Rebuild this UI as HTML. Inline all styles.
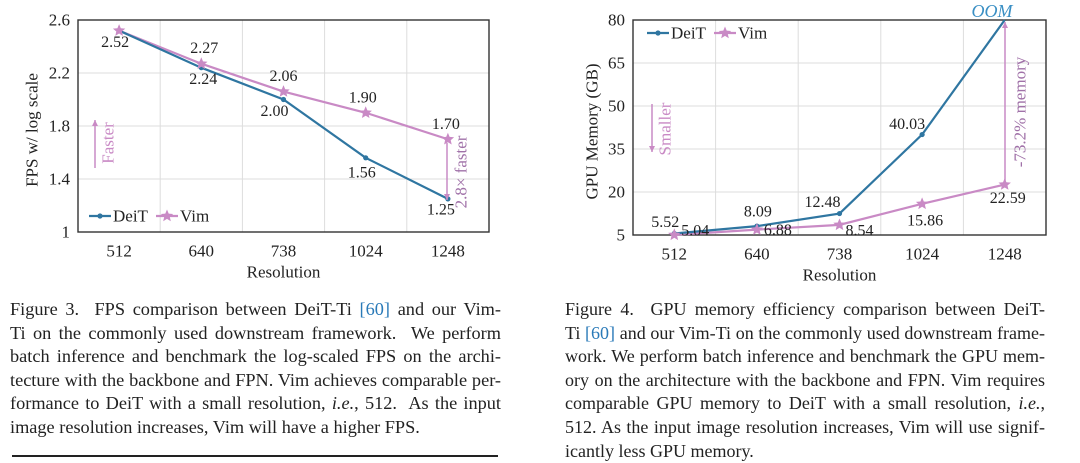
<!DOCTYPE html>
<html><head><meta charset="utf-8"><style>
body{margin:0;width:1080px;height:460px;background:#fff;overflow:hidden;font-family:"Liberation Serif",serif;}
svg{position:absolute;left:0;top:0}
.cap{position:absolute;font-size:18.3px;color:#222;line-height:23.6px;}
.cap div{text-align:justify;text-align-last:justify;white-space:nowrap;height:23.6px}
.cap div.last{text-align-last:left}
.ref{color:#2a7ab8}
</style></head><body>
<svg id="chart" width="1080" height="300" font-family="Liberation Serif, serif"></svg>
<div class="cap" style="left:10px;top:298px;width:491px">
<div>Figure 3.&nbsp; FPS comparison between DeiT-Ti <span class="ref">[60]</span> and our Vim-</div>
<div>Ti on the commonly used downstream framework.&nbsp; We perform</div>
<div>batch inference and benchmark the log-scaled FPS on the archi-</div>
<div>tecture with the backbone and FPN. Vim achieves comparable per-</div>
<div>formance to DeiT with a small resolution, <i>i.e.</i>, 512.&nbsp; As the input</div>
<div class="last">image resolution increases, Vim will have a higher FPS.</div>
</div>
<div style="position:absolute;left:12px;top:455px;width:486px;height:1.5px;background:#222"></div>
<div class="cap" style="left:565px;top:298px;width:480px;font-size:18px">
<div>Figure 4.&nbsp; GPU memory efficiency comparison between DeiT-</div>
<div>Ti <span class="ref">[60]</span> and our Vim-Ti on the commonly used downstream frame-</div>
<div>work. We perform batch inference and benchmark the GPU mem-</div>
<div>ory on the architecture with the backbone and FPN. Vim requires</div>
<div>comparable GPU memory to DeiT with a small resolution, <i>i.e.</i>,</div>
<div>512. As the input image resolution increases, Vim will use signif-</div>
<div class="last">icantly less GPU memory.</div>
</div>
<script>
const categories=["512","640","738","1024","1248"];
const fpsDeiT=[2.52,2.24,2.00,1.56,1.25];
const fpsVim=[2.52,2.27,2.06,1.90,1.70];
const fpsTicks=[1,1.4,1.8,2.2,2.6];
const fpsTickLabels=["1","1.4","1.8","2.2","2.6"];
const fpsDeiTLabels=["2.52","2.24","2.00","1.56","1.25"];
const fpsVimLabels=["","2.27","2.06","1.90","1.70"];
const memDeiT=[5.52,8.09,12.48,40.03,80];
const memVim=[5.04,6.88,8.54,15.86,22.59];
const memTicks=[5,20,35,50,65,80];
const memDeiTLabels=["5.52","8.09","12.48","40.03",""];
const memVimLabels=["5.04","6.88","8.54","15.86","22.59"];
const DEIT="#2f76a1",VIM="#c98ac5",ANN="#a071a8";
const svg=document.getElementById('chart');
const NS="http://www.w3.org/2000/svg";
function mk(tag,attrs,parent){const e=document.createElementNS(NS,tag);for(const k in attrs)e.setAttribute(k,attrs[k]);(parent||svg).appendChild(e);return e;}
function txt(x,y,s,size,extra){const t=mk('text',Object.assign({x:x,y:y,'font-size':size,'text-anchor':'middle','dominant-baseline':'central',fill:'#222'},extra||{}));t.textContent=s;return t;}
function star(cx,cy,r,fill){let p=[];for(let i=0;i<10;i++){const a=-Math.PI/2+i*Math.PI/5;const rr=i%2?r*0.45:r;p.push((cx+rr*Math.cos(a)).toFixed(1)+','+(cy+rr*Math.sin(a)).toFixed(1));}return mk('polygon',{points:p.join(' '),fill:fill});}

function drawChart(o){
  const g=mk('g',{});
  
  
  const bw=(o.x1-o.x0)/categories.length;
  const X=i=>o.x0+bw*(i+0.5);
  const Y=v=>o.y1-(v-o.ymin)/(o.ymax-o.ymin)*(o.y1-o.y0);
  for(let i=1;i<categories.length;i++){const l=mk('line',{x1:o.x0+bw*i,x2:o.x0+bw*i,y1:o.y0,y2:o.y1,stroke:'#ddd','stroke-width':1},g);}
  o.ticks.forEach((t,i)=>{
    const l=mk('line',{x1:o.x0,x2:o.x1,y1:Y(t),y2:Y(t),stroke:'#ddd','stroke-width':1},g);
    
    const tl=txt(o.x0-8,Y(t),o.tickLabels[i],17,{'text-anchor':'end'});
    
  });
  const fr=mk('rect',{x:o.x0,y:o.y0,width:o.x1-o.x0,height:o.y1-o.y0,fill:'none',stroke:'#333','stroke-width':1.4},g);
  
  categories.forEach((c,i)=>{const t=txt(X(i),o.y1+19,c,17);});
  const xt=txt((o.x0+o.x1)/2,o.y1+40,'Resolution',17);
  
  const yt=txt(0,0,o.ytitle,17,{transform:`translate(${o.ytx},${(o.y0+o.y1)/2+4}) rotate(-90)`});
  
  const vl=mk('polyline',{points:o.vim.map((v,i)=>X(i)+','+Y(v)).join(' '),fill:'none',stroke:VIM,'stroke-width':2.2},g);
  
  const dl=mk('polyline',{points:o.deit.map((v,i)=>X(i)+','+Y(v)).join(' '),fill:'none',stroke:DEIT,'stroke-width':2.2},g);
  
  o.deit.forEach((v,i)=>{if(v>=o.ymax)return;const c=mk('circle',{cx:X(i),cy:Y(v),r:2.6,fill:DEIT},g);});
  o.vim.forEach((v,i)=>{const s=star(X(i),Y(v),6.5,VIM);});
  o.deitLabels.forEach((s,i)=>{if(!s)return;const t=txt(X(i)+o.dOff[i][0],Y(o.deit[i])+o.dOff[i][1],s,16);});
  o.vimLabels.forEach((s,i)=>{if(!s)return;const t=txt(X(i)+o.vOff[i][0],Y(o.vim[i])+o.vOff[i][1],s,16);});
  const lg=mk('g',{},g);
  const [lx,ly]=o.leg;
  mk('line',{x1:lx,x2:lx+22,y1:ly,y2:ly,stroke:DEIT,'stroke-width':2.2},lg);mk('circle',{cx:lx+11,cy:ly,r:2.6,fill:DEIT},lg);
  const d=txt(lx+24,ly,'DeiT',17,{'text-anchor':'start'});
  mk('line',{x1:lx+67,x2:lx+89,y1:ly,y2:ly,stroke:VIM,'stroke-width':2.2},lg);star(lx+78,ly,6.5,VIM);
  const v=txt(lx+91,ly,'Vim',17,{'text-anchor':'start'});
  return {X,Y};
}
const A=drawChart({name:'fps-chart',x0:78,x1:489,y0:20,y1:232,ymin:1,ymax:2.6,ticks:fpsTicks,tickLabels:fpsTickLabels,ytitle:'FPS w/ log scale',ytx:32,
  deit:fpsDeiT,vim:fpsVim,deitLabels:fpsDeiTLabels,vimLabels:fpsVimLabels,
  dOff:[[-4,12],[2,12],[-9,12],[-4,15],[-7,11]],vOff:[[0,0],[3,-15],[0,-15],[-3,-15],[-2,-15]],leg:[89,216]});
const B=drawChart({name:'memory-chart',x0:633,x1:1046,y0:20,y1:235,ymin:5,ymax:80,ticks:memTicks,tickLabels:memTicks.map(String),ytitle:'GPU Memory (GB)',ytx:592,
  deit:memDeiT,vim:memVim,deitLabels:memDeiTLabels,vimLabels:memVimLabels,
  dOff:[[-9,-11],[1,-14],[-17,-11],[-15,-10],[0,0]],vOff:[[21,-4],[21,1],[20,6],[3,17],[3,14]],leg:[647,33]});
function arrow(x,ya,yb,name){const l=mk('line',{x1:x,x2:x,y1:ya,y2:yb,stroke:VIM,'stroke-width':1.5});
 const dir=yb>ya?1:-1;mk('polygon',{points:`${x-3},${yb-dir*6} ${x+3},${yb-dir*6} ${x},${yb}`,fill:VIM});}
arrow(95,168,120,'faster-arrow');
let t=txt(0,0,'Faster',17,{fill:VIM,transform:'translate(108,143) rotate(-90)'});
arrow(447,143,200,'speedup-arrow');
t=txt(0,0,'2.8× faster',17,{fill:ANN,transform:'translate(461,172) rotate(-90)'});
arrow(652,104,152,'smaller-arrow');
t=txt(0,0,'Smaller',17,{fill:VIM,transform:'translate(665,129) rotate(-90)'});
arrow(1005,183,22,'memory-reduction-arrow');
t=txt(0,0,'-73.2% memory',17,{fill:ANN,transform:'translate(1020,112) rotate(-90)'});
t=txt(992,11,'OOM',18,{fill:'#3a8fc4','font-style':'italic'});
</script>
</body></html>
